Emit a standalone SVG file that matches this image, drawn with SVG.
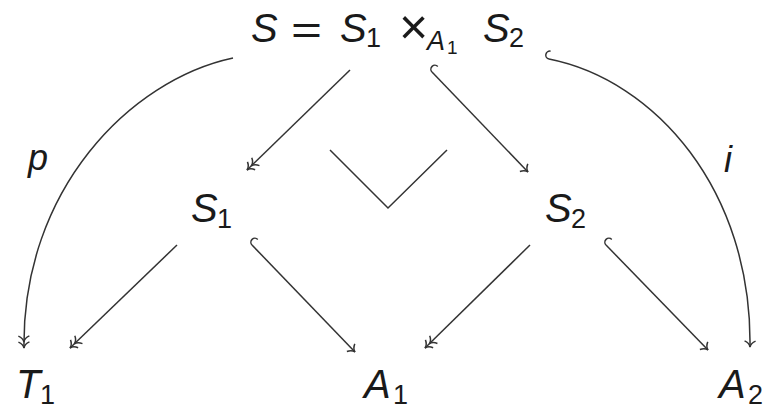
<svg xmlns="http://www.w3.org/2000/svg" width="772" height="409" viewBox="0 0 772 409">
<defs>
<style>
.t{font-family:"Liberation Sans","DejaVu Sans",sans-serif;fill:#1a1a1a}
.m{font-style:italic;font-size:40px}
.u{font-size:40px}
.s{font-size:27px}
.sm{font-style:italic;font-size:27px}
.ss{font-size:19px}
.e{fill:none;stroke:#333;stroke-width:1.5}
.lab{font-style:italic;font-size:36px}
</style>
<marker id="head" markerUnits="userSpaceOnUse" markerWidth="20" markerHeight="20" viewBox="-10 -10 20 20" refX="0" refY="0" orient="auto">
<path d="M-6,-5.5 C-4.5,-2 -2,-0.4 0,0 C-2,0.4 -4.5,2 -6,5.5" fill="none" stroke="#333" stroke-width="1.5"/>
</marker>
<marker id="dhead" markerUnits="userSpaceOnUse" markerWidth="24" markerHeight="20" viewBox="-16 -10 24 20" refX="0" refY="0" orient="auto">
<path d="M-6,-5.5 C-4.5,-2 -2,-0.4 0,0 C-2,0.4 -4.5,2 -6,5.5 M-12,-5.5 C-10.5,-2 -8,-0.4 -6,0 C-8,0.4 -10.5,2 -12,5.5" fill="none" stroke="#333" stroke-width="1.5"/>
</marker>
<marker id="hook" markerUnits="userSpaceOnUse" markerWidth="20" markerHeight="20" viewBox="-10 -10 20 20" refX="0" refY="0" orient="auto">
<path d="M0,0 A4,4 0 0 1 0,-8" fill="none" stroke="#333" stroke-width="1.5"/>
</marker>
</defs>

<g id="node-S">
<text class="t m" x="251" y="42">S</text>
<text class="t u" x="291" y="44" textLength="31" lengthAdjust="spacingAndGlyphs">=</text>
<text class="t m" x="340" y="42">S</text>
<text class="t s" x="366" y="47">1</text>
<text class="t" x="399" y="44" style="font-size:50px">×</text>
<text class="t sm" x="427" y="50">A</text>
<text class="t ss" x="447" y="54">1</text>
<text class="t m" x="483" y="42">S</text>
<text class="t s" x="509" y="47">2</text>
</g>
<g id="node-S1">
<text class="t m" x="191" y="222">S</text>
<text class="t s" x="217" y="228">1</text>
</g>
<g id="node-S2">
<text class="t m" x="545" y="222">S</text>
<text class="t s" x="571" y="228">2</text>
</g>
<g id="node-T1">
<text class="t m" x="16" y="398">T</text>
<text class="t s" x="40" y="404">1</text>
</g>
<g id="node-A1">
<text class="t m" x="364" y="398">A</text>
<text class="t s" x="393" y="404">1</text>
</g>
<g id="node-A2">
<text class="t m" x="719" y="398">A</text>
<text class="t s" x="748" y="404">2</text>
</g>

<g id="connectors">
<path class="e" d="M350,70 L247,170" marker-end="url(#dhead)"/>
<path class="e" d="M432,72 L528,172" marker-start="url(#hook)" marker-end="url(#head)"/>
<path class="e" d="M177,245 L70,348" marker-end="url(#dhead)"/>
<path class="e" d="M252,245 L355,352" marker-start="url(#hook)" marker-end="url(#head)"/>
<path class="e" d="M530,245 L425,348" marker-end="url(#dhead)"/>
<path class="e" d="M606,245 L708,350" marker-start="url(#hook)" marker-end="url(#head)"/>
<path class="e" d="M233,58 C130,80 22,190 24,348" marker-end="url(#dhead)"/>
<path class="e" d="M549,59 C655,80 752,190 750,347" marker-start="url(#hook)" marker-end="url(#head)"/>
<path class="e" d="M330,150 L388,208 L447,150"/>
<text class="t lab" x="28" y="170">p</text>
<text class="t lab" x="724" y="172">i</text>
</g>
</svg>
